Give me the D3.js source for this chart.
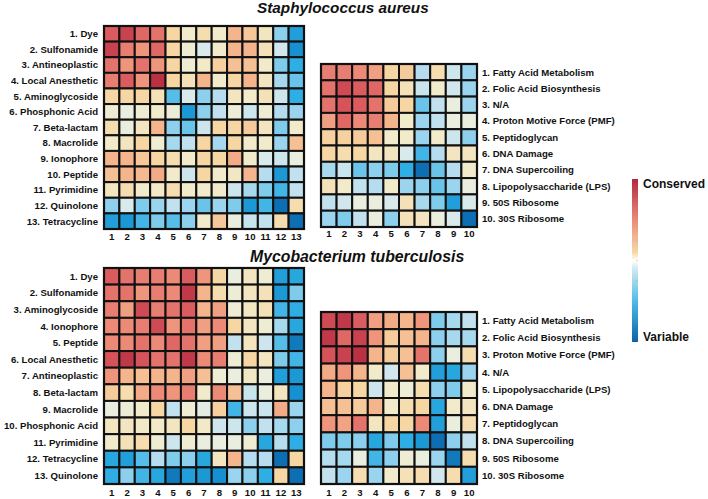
<!DOCTYPE html>
<html><head><meta charset="utf-8">
<script src="https://cdn.jsdelivr.net/npm/d3@7"></script>
<style>
html,body{margin:0;padding:0;background:#fff;}
svg{display:block;font-family:"Liberation Sans",Arial,Helvetica,sans-serif;}
</style></head>
<body><svg id="chart" width="708" height="499"></svg>
<script>
// ---------- DATA ----------
const staphTitle = "Staphylococcus aureus";
const mycoTitle = "Mycobacterium tuberculosis";

const staphDrugs = ["1. Dye","2. Sulfonamide","3. Antineoplastic","4. Local Anesthetic","5. Aminoglycoside","6. Phosphonic Acid","7. Beta-lactam","8. Macrolide","9. Ionophore","10. Peptide","11. Pyrimidine","12. Quinolone","13. Tetracycline"];
const staphDrugValues = [
  [0.70,0.85,0.65,0.60,0.15,0.05,0.12,0.05,0.30,0.22,0.08,-0.35,-0.70],
  [0.85,0.55,0.45,0.65,0.15,0.03,-0.05,0.05,0.30,0.30,0.10,-0.08,-0.80],
  [0.60,0.45,0.60,0.45,0.15,0.03,0.06,0.18,0.25,0.25,0.05,-0.40,-0.60],
  [0.55,0.70,0.45,0.95,0.15,0.10,0.30,0.05,0.15,0.30,0.08,-0.25,-0.45],
  [0.15,0.15,0.15,0.10,-0.50,-0.05,-0.35,-0.20,0.08,0.05,0.10,-0.10,-0.60],
  [0.03,0.00,0.03,0.05,0.02,-0.75,-0.35,-0.15,0.02,-0.10,0.03,-0.20,-0.30],
  [0.12,0.00,0.08,0.30,-0.35,-0.45,-0.10,0.15,0.15,0.20,0.08,-0.40,0.05],
  [0.05,0.08,0.15,0.03,-0.25,-0.15,0.15,-0.25,0.15,0.05,0.05,-0.30,0.25],
  [0.30,0.30,0.22,0.15,0.12,0.05,0.15,0.15,0.35,0.05,-0.05,-0.10,0.00],
  [0.25,0.30,0.28,0.35,0.05,-0.10,0.15,0.05,0.07,0.30,-0.20,-0.75,-0.15],
  [0.08,0.12,0.05,0.06,0.12,0.05,0.05,0.05,-0.10,-0.25,-0.40,-0.55,-0.15],
  [-0.35,-0.05,-0.40,-0.30,-0.15,-0.30,-0.45,-0.30,-0.40,-0.75,-0.55,-0.95,0.12],
  [-0.70,-0.75,-0.55,-0.40,-0.50,-0.35,0.05,0.22,0.00,-0.12,-0.15,0.12,-0.95]
];

const staphPathways = ["1. Fatty Acid Metabolism","2. Folic Acid Biosynthesis","3. N/A","4. Proton Motive Force (PMF)","5. Peptidoglycan","6. DNA Damage","7. DNA Supercoiling","8. Lipopolysaccharide (LPS)","9. 50S Ribosome","10. 30S Ribosome"];
const staphPathwayValues = [
  [0.55,0.55,0.50,0.40,0.15,0.20,-0.20,0.12,-0.10,-0.30],
  [0.60,0.80,0.70,0.65,0.15,0.10,-0.12,0.05,-0.08,-0.30],
  [0.60,0.75,0.70,0.60,0.20,0.15,-0.45,-0.15,0.00,-0.30],
  [0.40,0.65,0.50,0.55,0.30,0.05,-0.30,-0.15,0.00,0.00],
  [0.18,0.18,0.20,0.25,0.05,0.05,-0.30,0.05,-0.10,-0.35],
  [0.15,0.12,0.15,0.08,0.08,-0.05,-0.55,-0.20,0.08,0.08],
  [-0.25,-0.12,-0.45,-0.35,-0.40,-0.60,-0.95,-0.45,-0.20,0.05],
  [0.10,0.05,-0.15,-0.20,0.05,-0.30,-0.35,-0.45,-0.30,0.00],
  [-0.15,-0.08,0.00,0.00,-0.05,0.10,-0.25,-0.40,-0.70,-0.05],
  [-0.30,-0.40,-0.15,0.00,-0.35,0.10,0.08,0.00,-0.05,-0.95]
];

const mycoDrugs = ["1. Dye","2. Sulfonamide","3. Aminoglycoside","4. Ionophore","5. Peptide","6. Local Anesthetic","7. Antineoplastic","8. Beta-lactam","9. Macrolide","10. Phosphonic Acid","11. Pyrimidine","12. Tetracycline","13. Quinolone"];
const mycoDrugValues = [
  [0.70,0.60,0.55,0.55,0.50,0.70,0.45,0.15,0.00,0.08,0.03,-0.70,-0.65],
  [0.60,0.60,0.45,0.55,0.50,0.90,0.30,0.12,0.02,0.08,0.10,-0.75,-0.40],
  [0.55,0.40,0.80,0.55,0.60,0.70,0.30,0.40,0.03,0.07,0.10,-0.55,-0.60],
  [0.50,0.50,0.55,0.80,0.45,0.60,0.40,0.50,0.15,0.08,0.03,-0.25,-0.65],
  [0.50,0.50,0.60,0.50,0.65,0.60,0.40,0.40,-0.15,0.08,-0.10,-0.50,-0.90],
  [0.75,0.90,0.75,0.60,0.60,0.90,0.50,0.55,0.03,0.15,0.08,-0.40,-0.55],
  [0.45,0.30,0.25,0.30,0.30,0.40,0.25,0.03,0.00,0.07,0.00,-0.70,-0.75],
  [0.20,0.12,0.35,0.50,0.45,0.55,0.05,0.50,0.25,-0.12,0.00,0.08,-0.80],
  [0.00,0.02,0.05,0.15,-0.15,0.03,-0.02,0.18,-0.55,-0.10,-0.12,0.35,-0.30],
  [0.08,0.08,0.06,0.06,0.08,0.15,0.06,-0.10,-0.10,-0.35,-0.15,-0.25,-0.35],
  [0.05,0.10,0.12,0.03,-0.10,0.03,0.00,0.00,0.00,0.03,-0.65,-0.20,-0.60],
  [-0.65,-0.70,-0.50,-0.20,-0.40,-0.35,-0.65,0.08,0.30,-0.20,-0.20,-0.95,0.15],
  [-0.60,-0.35,-0.55,-0.65,-0.90,-0.70,-0.75,-0.80,-0.30,-0.35,-0.60,0.15,-0.95]
];

const mycoPathways = ["1. Fatty Acid Metabolism","2. Folic Acid Biosynthesis","3. Proton Motive Force (PMF)","4. N/A","5. Lipopolysaccharide (LPS)","6. DNA Damage","7. Peptidoglycan","8. DNA Supercoiling","9. 50S Ribosome","10. 30S Ribosome"];
const mycoPathwayValues = [
  [0.80,0.90,0.70,0.40,0.35,0.30,0.45,-0.40,-0.25,-0.15],
  [0.90,0.65,0.85,0.45,0.20,0.25,0.30,-0.35,-0.25,-0.25],
  [0.75,0.85,0.95,0.30,0.20,0.25,0.60,-0.35,0.00,0.12],
  [0.35,0.45,0.30,0.05,-0.08,0.25,0.05,-0.70,-0.65,-0.30],
  [0.30,0.18,0.15,-0.10,0.05,0.02,0.12,-0.35,-0.40,0.05],
  [0.25,0.25,0.20,0.30,0.05,0.12,0.15,-0.65,0.05,0.08],
  [0.45,0.38,0.60,0.08,0.15,0.15,0.50,-0.70,0.00,0.12],
  [-0.40,-0.40,-0.35,-0.65,-0.40,-0.60,-0.75,-0.95,-0.35,-0.15],
  [-0.20,-0.25,0.00,-0.55,-0.35,0.03,0.00,-0.30,-0.90,0.12],
  [-0.15,-0.30,0.12,-0.30,0.05,0.10,0.12,-0.08,0.12,-0.70]
];

const legendLabels = ["Conserved","Variable"];
const colorStops = [-1,-0.8,-0.6,-0.4,-0.2,-0.05,0,0.05,0.15,0.3,0.5,0.7,1];
const colorRange = ["#0a63a9","#1690d0","#2eaee4","#7ecbec","#b5ddef","#d9eaec","#eaeedf","#f1ebcb","#f6d7a4","#f4b48c","#ec8a77","#db5c5e","#b4283f"];
const barStops = [-1,-0.5,-0.1,0,0.1,0.5,1];
const barRange = ["#0a63a9","#4cbce8","#d2e9f1","#ffffff","#f5d9a8","#ec8a77","#b4283f"];

// ---------- DRAW ----------
const svg = d3.select("#chart");
const color = d3.scaleLinear().domain(colorStops).range(colorRange).interpolate(d3.interpolateRgb).clamp(true);
const barColor = d3.scaleLinear().domain(barStops).range(barRange).interpolate(d3.interpolateRgb).clamp(true);
const textColor = "#111";

function heatmap(opts){
  const {values, labels, x0, x1, y0, y1, labelSide, colLabelY} = opts;
  const n = values.length;
  const idx = d3.range(n);
  const xs = d3.scaleBand().domain(idx).range([x0, x1]);
  const ys = d3.scaleBand().domain(idx).range([y0, y1]);
  const g = svg.append("g");
  const cells = [];
  values.forEach((row,i)=>row.forEach((v,j)=>cells.push({i,j,v})));
  g.selectAll("rect.cell").data(cells).join("rect")
    .attr("class","cell")
    .attr("x", d=>xs(d.j)).attr("y", d=>ys(d.i))
    .attr("width", xs.bandwidth()).attr("height", ys.bandwidth())
    .attr("fill", d=>color(d.v))
    .attr("stroke","#111").attr("stroke-width",2);
  g.append("rect").attr("x",x0).attr("y",y0).attr("width",x1-x0).attr("height",y1-y0)
    .attr("fill","none").attr("stroke","#111").attr("stroke-width",2.2);
  g.selectAll("text.row").data(labels).join("text")
    .attr("class","row")
    .attr("x", labelSide==="left" ? x0-6 : x1+5)
    .attr("y", (d,i)=>ys(i)+ys.bandwidth()/2)
    .attr("dy","0.35em")
    .attr("text-anchor", labelSide==="left" ? "end" : "start")
    .attr("font-size","9.6px").attr("font-weight","bold").attr("fill",textColor)
    .text(d=>d);
  const ax = d3.axisBottom(xs).tickSize(0).tickPadding(0).tickFormat(d=>String(d+1));
  const axg = g.append("g").attr("transform",`translate(0,${colLabelY})`).call(ax);
  axg.select(".domain").remove();
  axg.selectAll("text").attr("font-size","9.6px").attr("font-weight","bold").attr("fill",textColor)
    .attr("font-family","'Liberation Sans',Arial,sans-serif").attr("dy","0.35em").attr("y",0);
}

heatmap({values:staphDrugValues, labels:staphDrugs, x0:104, x1:304, y0:26, y1:229, labelSide:"left", colLabelY:237});
heatmap({values:staphPathwayValues, labels:staphPathways, x0:321, x1:477, y0:64, y1:227, labelSide:"right", colLabelY:233.5});
heatmap({values:mycoDrugValues, labels:mycoDrugs, x0:104, x1:304, y0:268, y1:484, labelSide:"left", colLabelY:493});
heatmap({values:mycoPathwayValues, labels:mycoPathways, x0:321, x1:477, y0:312, y1:484, labelSide:"right", colLabelY:493});

svg.append("text").attr("x",257).attr("y",13).attr("font-size","15.3px").attr("font-weight","bold").attr("font-style","italic").attr("fill",textColor).text(staphTitle);
svg.append("text").attr("x",250).attr("y",261.5).attr("font-size","15.8px").attr("font-weight","bold").attr("font-style","italic").attr("fill",textColor).text(mycoTitle);

// colorbar
const defs = svg.append("defs");
const grad = defs.append("linearGradient").attr("id","cbar").attr("x1",0).attr("x2",0).attr("y1",0).attr("y2",1);
const cbScale = d3.scaleLinear().domain([1,-1]).range([0,1]);
d3.range(1,-1.0001,-0.05).forEach(v=>{
  grad.append("stop").attr("offset", cbScale(v)).attr("stop-color", barColor(v));
});
const cbY = d3.scaleLinear().domain([1,-1]).range([179,342]);
svg.append("rect").attr("x",632).attr("y",cbY(1)).attr("width",6).attr("height",cbY(-1)-cbY(1)).attr("fill","url(#cbar)");
svg.selectAll("line.cbt").data(d3.range(-0.75,1,0.25)).join("line")
  .attr("class","cbt").attr("x1",636).attr("x2",638).attr("y1",d=>cbY(d)).attr("y2",d=>cbY(d))
  .attr("stroke","#999").attr("stroke-width",0.6).attr("opacity",0.6);
svg.append("text").attr("x",643).attr("y",cbY(1)+5).attr("dy","0.35em").attr("font-size","12px").attr("font-weight","bold").attr("fill",textColor).text(legendLabels[0]);
svg.append("text").attr("x",643).attr("y",cbY(-1)-5).attr("dy","0.35em").attr("font-size","12px").attr("font-weight","bold").attr("fill",textColor).text(legendLabels[1]);
</script></body></html>
